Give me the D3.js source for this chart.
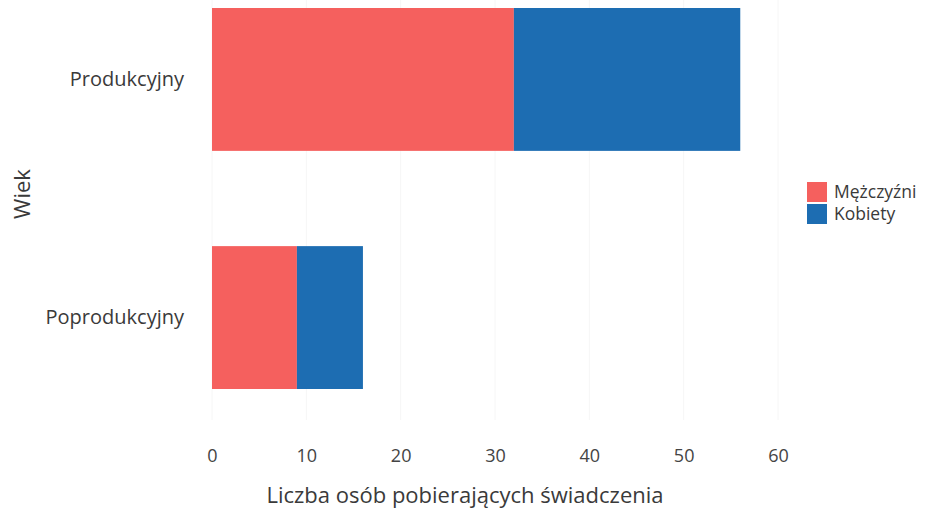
<!DOCTYPE html>
<html>
<head>
<meta charset="utf-8">
<script src="https://cdn.jsdelivr.net/npm/d3@7"></script>
<style>
  body { margin: 0; background: #fff; }
  svg text { font-family: "Open Sans", "DejaVu Sans", sans-serif; fill: #3a3a3a; }
</style>
</head>
<body>
<div id="chart"></div>
<script>
// data
var categories = ["Produkcyjny", "Poprodukcyjny"];
var seriesNames = ["Mężczyźni", "Kobiety"];
var menValues = [32, 9];
var womenValues = [24, 7];
var xTicks = [0, 10, 20, 30, 40, 50, 60];

var colors = {"Mężczyźni": "#f5605e", "Kobiety": "#1d6db2"};

var W = 935, H = 517;
var svg = d3.select("#chart").append("svg").attr("width", W).attr("height", H);

var x = d3.scaleLinear().domain([0, 60]).range([212, 778]);
var y = d3.scaleBand().domain(categories).range([8, 389]).paddingInner(0.4).paddingOuter(0);

// faint grid
svg.append("g").selectAll("line").data(xTicks).enter().append("line")
  .attr("x1", function(d){ return x(d); }).attr("x2", function(d){ return x(d); })
  .attr("y1", 0).attr("y2", 420)
  .attr("stroke", "#f6f6f6").attr("stroke-width", 1);

var rows = categories.map(function(c, i){
  return {cat: c, "Mężczyźni": menValues[i], "Kobiety": womenValues[i]};
});
var stacked = d3.stack().keys(seriesNames)(rows);

svg.append("g").selectAll("g").data(stacked).enter().append("g")
  .attr("fill", function(d){ return colors[d.key]; })
  .selectAll("rect").data(function(d){ return d; }).enter().append("rect")
  .attr("x", function(d){ return x(d[0]); })
  .attr("width", function(d){ return x(d[1]) - x(d[0]); })
  .attr("y", function(d){ return y(d.data.cat); })
  .attr("height", y.bandwidth());

// x axis
var xAxis = svg.append("g").attr("transform", "translate(0,446)")
  .call(d3.axisBottom(x).tickValues(xTicks).tickSize(0).tickPadding(3));
xAxis.select(".domain").remove();
xAxis.selectAll("text").style("font-size", "18px").style("fill", "#444");

// y axis
var yAxis = svg.append("g").attr("transform", "translate(190,0)")
  .call(d3.axisLeft(y).tickSize(0).tickPadding(6));
yAxis.select(".domain").remove();
yAxis.selectAll("text").style("font-size", "20px").style("fill", "#3a3a3a");

// axis titles
svg.append("text").attr("x", 465).attr("y", 503).attr("text-anchor", "middle")
  .style("font-size", "22px").text("Liczba osób pobierających świadczenia");
svg.append("text").attr("transform", "translate(30,194) rotate(-90)")
  .attr("text-anchor", "middle").style("font-size", "22px").text("Wiek");

// legend
var leg = svg.append("g").attr("transform", "translate(807,182)");
seriesNames.forEach(function(s, i){
  leg.append("rect").attr("x", 0).attr("y", i * 22).attr("width", 20).attr("height", 20)
    .attr("fill", colors[s]);
  leg.append("text").attr("x", 27).attr("y", i * 22 + 16).style("font-size", "17.5px").text(s);
});
</script>
</body>
</html>
